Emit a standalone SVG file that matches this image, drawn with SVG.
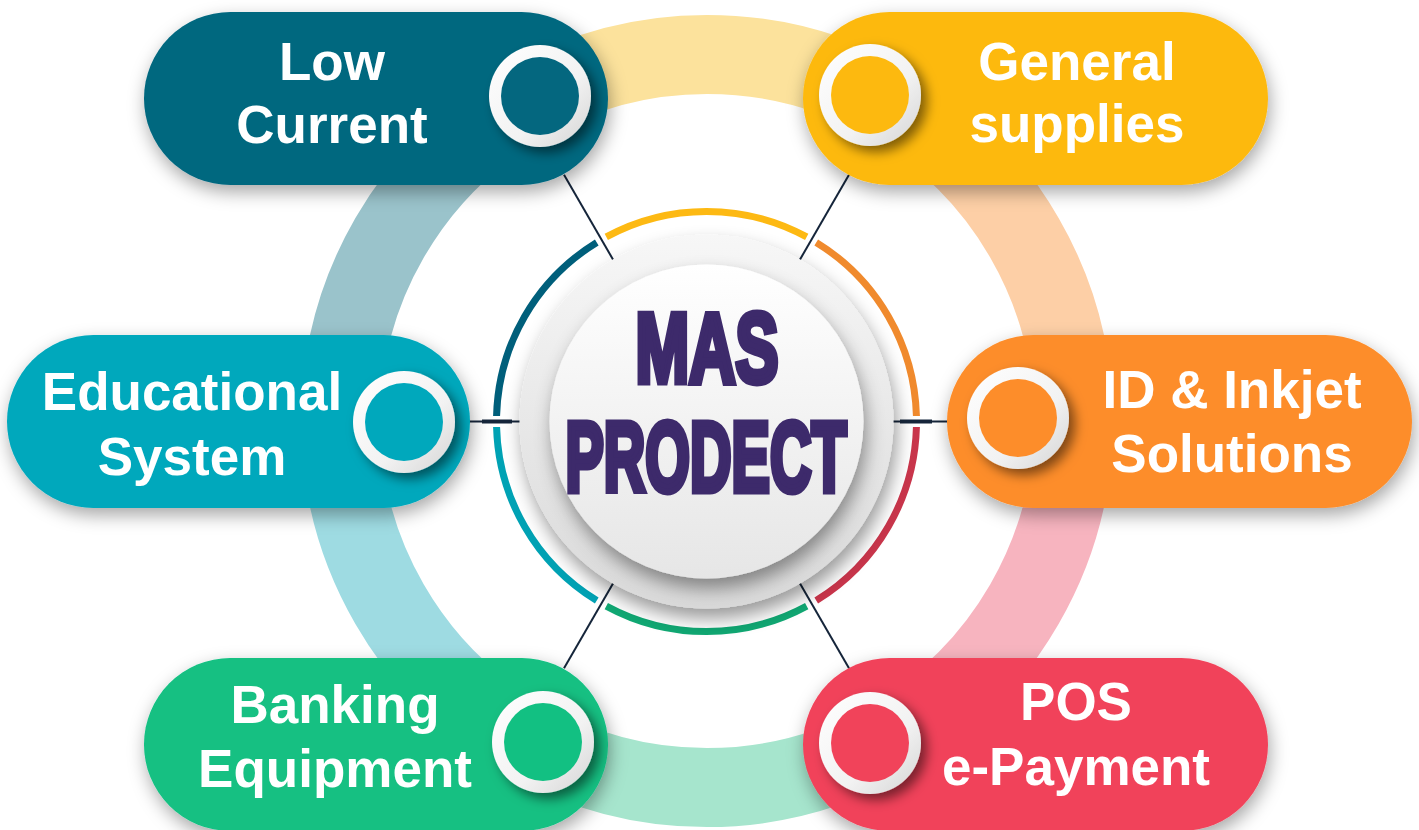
<svg xmlns="http://www.w3.org/2000/svg" width="1419" height="830" viewBox="0 0 1419 830">
<defs>
<style>
.band{fill:none;stroke-width:79}
.arc{fill:none;stroke-width:7}
.pill{filter:url(#pillShadow)}
.ring{fill:url(#ringGrad);filter:url(#knobShadow)}
.lbl{font-family:"Liberation Sans",Arial,sans-serif;font-weight:bold;font-size:53px;fill:#ffffff;text-anchor:middle}
.conn{stroke:#15253a;stroke-width:2;fill:none}
.connThick{stroke:#15253a;stroke-width:4;fill:none}
.title{font-family:"Liberation Sans Narrow","Liberation Sans",Arial,sans-serif;font-weight:bold;fill:#3d2a6b;stroke:#3d2a6b;stroke-width:7;stroke-linejoin:miter;text-anchor:middle}
</style>
<filter id="pillShadow" x="-20%" y="-30%" width="140%" height="170%">
<feDropShadow dx="2" dy="7" stdDeviation="9" flood-color="#000" flood-opacity="0.35"/>
</filter>
<filter id="knobShadow" x="-40%" y="-40%" width="180%" height="180%">
<feDropShadow dx="6" dy="6" stdDeviation="6" flood-color="#000" flood-opacity="0.5"/>
</filter>
<filter id="discShadow" x="-30%" y="-30%" width="160%" height="170%">
<feDropShadow dx="3" dy="10" stdDeviation="9" flood-color="#000" flood-opacity="0.4"/>
</filter>
<linearGradient id="ringGrad" x1="0" y1="0" x2="1" y2="1">
<stop offset="0" stop-color="#ffffff"/>
<stop offset="0.6" stop-color="#f2f2f2"/>
<stop offset="1" stop-color="#d4d4d4"/>
</linearGradient>
<linearGradient id="outerDisc" x1="0" y1="0" x2="0" y2="1">
<stop offset="0" stop-color="#f7f7f7"/>
<stop offset="1" stop-color="#d9d9d9"/>
</linearGradient>
<linearGradient id="innerDisc" x1="0" y1="0" x2="0" y2="1">
<stop offset="0" stop-color="#ffffff"/>
<stop offset="1" stop-color="#e6e6e6"/>
</linearGradient>
</defs>

<rect width="1419" height="830" fill="#ffffff"/>

<g id="outer-ring">
<path class="band" stroke="#fce29c" d="M523.75 103.6 A366.5 366.5 0 0 1 890.25 103.6"/>
<path class="band" stroke="#fdcfa6" d="M890.25 103.6 A366.5 366.5 0 0 1 1073.5 421"/>
<path class="band" stroke="#f7b4bf" d="M1073.5 421 A366.5 366.5 0 0 1 890.25 738.4"/>
<path class="band" stroke="#a6e5cd" d="M890.25 738.4 A366.5 366.5 0 0 1 523.75 738.4"/>
<path class="band" stroke="#9edbe2" d="M523.75 738.4 A366.5 366.5 0 0 1 340.5 421"/>
<path class="band" stroke="#9ac3cb" d="M340.5 421 A366.5 366.5 0 0 1 523.75 103.6"/>
</g>

<g id="connectors">
<line class="conn" x1="613" y1="259.5" x2="564" y2="174.7"/>
<line class="conn" x1="800" y1="259.5" x2="849" y2="174.7"/>
<line class="conn" x1="613" y1="583.5" x2="564" y2="668.3"/>
<line class="conn" x1="800" y1="583.5" x2="849" y2="668.3"/>
<line class="conn" x1="466" y1="421.5" x2="522" y2="421.5"/>
<line class="connThick" x1="482" y1="421.5" x2="512" y2="421.5"/>
<line class="conn" x1="891" y1="421.5" x2="950" y2="421.5"/>
<line class="connThick" x1="900" y1="421.5" x2="932" y2="421.5"/>
</g>

<g id="node-low-current">
<rect class="pill" x="144" y="12" width="464" height="173" rx="86.5" fill="#04677f"/>
<circle class="ring" cx="540" cy="96" r="51"/>
<circle cx="540" cy="96" r="39" fill="#04677f"/>
<text class="lbl" x="332" y="80">Low</text>
<text class="lbl" x="332" y="143">Current</text>
</g>

<g id="node-general-supplies">
<rect class="pill" x="803" y="12" width="465" height="173" rx="86.5" fill="#fdb90f"/>
<circle class="ring" cx="870" cy="95" r="51"/>
<circle cx="870" cy="95" r="39" fill="#fdb90f"/>
<text class="lbl" x="1077" y="80">General</text>
<text class="lbl" x="1077" y="142">supplies</text>
</g>

<g id="node-id-inkjet">
<rect class="pill" x="947" y="335" width="465" height="173" rx="86.5" fill="#fd8d2a"/>
<circle class="ring" cx="1018" cy="418" r="51"/>
<circle cx="1018" cy="418" r="39" fill="#fd8d2a"/>
<text class="lbl" x="1232" y="408">ID &amp; Inkjet</text>
<text class="lbl" x="1232" y="472">Solutions</text>
</g>

<g id="node-educational-system">
<rect class="pill" x="7" y="335" width="463" height="173" rx="86.5" fill="#00a8bc"/>
<circle class="ring" cx="404" cy="422" r="51"/>
<circle cx="404" cy="422" r="39" fill="#00a8bc"/>
<text class="lbl" x="192" y="410">Educational</text>
<text class="lbl" x="192" y="475">System</text>
</g>

<g id="node-banking-equipment">
<rect class="pill" x="144" y="658" width="464" height="173" rx="86.5" fill="#12c082"/>
<circle class="ring" cx="543" cy="742" r="51"/>
<circle cx="543" cy="742" r="39" fill="#12c082"/>
<text class="lbl" x="335" y="723">Banking</text>
<text class="lbl" x="335" y="787">Equipment</text>
</g>

<g id="node-pos-epayment">
<rect class="pill" x="803" y="658" width="465" height="173" rx="86.5" fill="#f1435a"/>
<circle class="ring" cx="870" cy="743" r="51"/>
<circle cx="870" cy="743" r="39" fill="#f1435a"/>
<text class="lbl" x="1076" y="720">POS</text>
<text class="lbl" x="1076" y="785">e-Payment</text>
</g>

<g id="node-center">
<path class="arc" stroke="#fdb913" d="M606.29 236.95 A210 210 0 0 1 806.71 236.95"/>
<path class="arc" stroke="#f08a2d" d="M816.23 242.45 A210 210 0 0 1 916.43 416"/>
<path class="arc" stroke="#c9354b" d="M916.43 427 A210 210 0 0 1 816.23 600.55"/>
<path class="arc" stroke="#10a873" d="M806.71 606.05 A210 210 0 0 1 606.29 606.05"/>
<path class="arc" stroke="#00a2b4" d="M596.77 600.55 A210 210 0 0 1 496.57 427"/>
<path class="arc" stroke="#005f7b" d="M496.57 416 A210 210 0 0 1 596.77 242.45"/>
<circle cx="706.5" cy="421.5" r="187" fill="url(#outerDisc)" filter="url(#discShadow)"/>
<circle cx="706.5" cy="421.5" r="157" fill="url(#innerDisc)" filter="url(#discShadow)"/>
<text class="title" x="707" y="381.5" font-size="99" textLength="143" lengthAdjust="spacingAndGlyphs">MAS</text>
<text class="title" x="706" y="490.5" font-size="99" textLength="281" lengthAdjust="spacingAndGlyphs">PRODECT</text>
</g>
</svg>
